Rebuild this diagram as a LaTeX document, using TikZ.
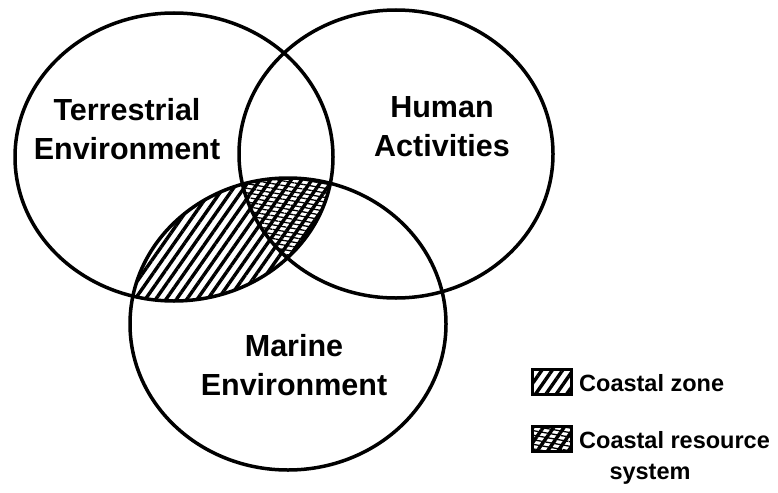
\documentclass[tikz,border=0pt]{standalone}
\usepackage{fontspec}
\setmainfont{Liberation Sans}
\usetikzlibrary{patterns.meta}
\begin{document}
\begin{tikzpicture}[x=1pt,y=-1pt,
  ring/.style={draw=black, line width=3.5pt},
  zonefill/.style={pattern={Lines[angle=55,distance=8.5pt,line width=3.4pt]}},
  resfill/.style={pattern={Lines[angle=-10,distance=4.5pt,line width=1.3pt]}},
  biglabel/.style={font=\fontsize{30.5}{39}\selectfont\bfseries, align=center, inner sep=0pt},
  keylabel/.style={font=\fontsize{23.5}{27}\selectfont\bfseries, anchor=west, inner sep=0pt},
  keybox/.style={draw=black, line width=2.5pt, minimum width=39pt, minimum height=25pt, inner sep=0pt}]
\useasboundingbox[fill=white] (0,0) rectangle (778,492);

% centres of the three sets
\coordinate (cT) at (174,157);
\coordinate (cH) at (396,154);
\coordinate (cM) at (288,324);

% coastal zone: terrestrial and marine overlap
\begin{scope}
  \clip (cT) ellipse [x radius=159pt, y radius=144pt];
  \fill[zonefill] (cM) ellipse [x radius=158pt, y radius=146pt];
\end{scope}
% coastal resource system: overlap of all three
\begin{scope}
  \clip (cT) ellipse [x radius=159pt, y radius=144pt];
  \clip (cH) ellipse [x radius=157pt, y radius=144pt];
  \fill[resfill] (cM) ellipse [x radius=158pt, y radius=146pt];
\end{scope}

% outlines
\draw[ring] (cT) ellipse [x radius=159pt, y radius=144pt];
\draw[ring] (cH) ellipse [x radius=157pt, y radius=144pt];
\draw[ring] (cM) ellipse [x radius=158pt, y radius=146pt];

% set labels
\node[biglabel] (lT) at (127,129) {Terrestrial\\Environment};
\node[biglabel] (lH) at (442,127) {Human\\Activities};
\node[biglabel] (lM) at (294,365) {Marine\\Environment};

% key
\node[keybox, zonefill] (k1) at (552,382) {};
\node[keybox, zonefill, postaction={resfill}] (k2) at (552,439) {};
\node[keylabel] (t1) at (579,383) {Coastal zone};
\node[keylabel] (t2) at (579,440) {Coastal resource};
\node[keylabel, anchor=center] (t3) at (650,474) {system};
\end{tikzpicture}
\end{document}
